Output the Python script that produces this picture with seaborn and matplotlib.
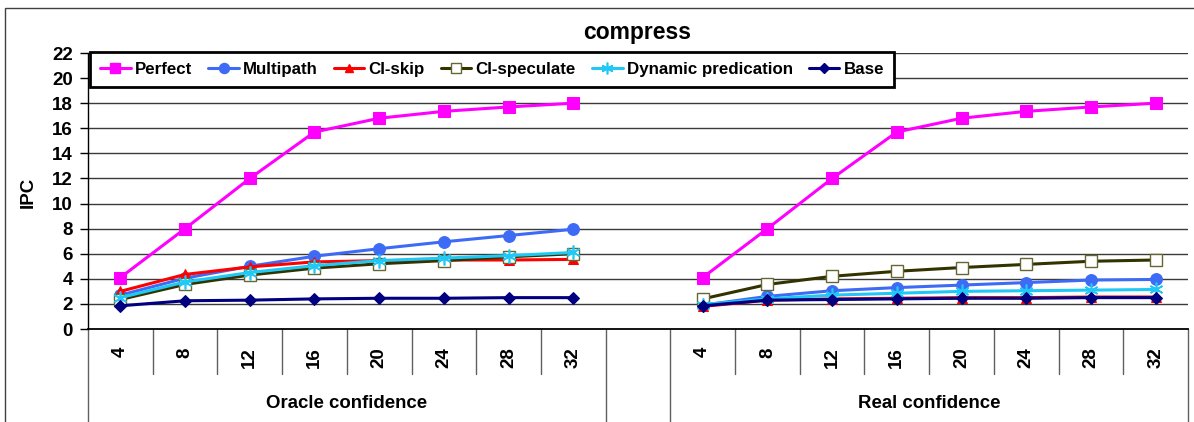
import matplotlib
matplotlib.use("Agg")
import matplotlib.pyplot as plt
import seaborn as sns
import pandas as pd
from matplotlib.lines import Line2D
from matplotlib.patches import Rectangle

sns.set_theme(style="white")
plt.rcParams['font.family'] = ['Liberation Sans', 'DejaVu Sans']
plt.rcParams['font.weight'] = 'bold'

# ---------------- data ----------------
window = [4, 8, 12, 16, 20, 24, 28, 32]
groups = ["Oracle confidence", "Real confidence"]
series = ["Perfect", "Multipath", "CI-skip", "CI-speculate", "Dynamic predication", "Base"]

oracle_perfect = [4.1, 8.0, 12.0, 15.7, 16.8, 17.35, 17.7, 18.0]
oracle_multipath = [2.7, 4.05, 5.0, 5.8, 6.4, 6.95, 7.45, 7.95]
oracle_ciskip = [3.0, 4.35, 4.95, 5.35, 5.45, 5.5, 5.5, 5.55]
oracle_cispec = [2.35, 3.55, 4.3, 4.85, 5.2, 5.45, 5.75, 6.0]
oracle_dynpred = [2.5, 3.75, 4.5, 5.05, 5.45, 5.65, 5.85, 6.1]
oracle_base = [1.85, 2.25, 2.3, 2.4, 2.45, 2.45, 2.5, 2.5]

real_perfect = [4.1, 8.0, 12.0, 15.7, 16.8, 17.35, 17.7, 18.0]
real_multipath = [1.9, 2.6, 3.05, 3.3, 3.5, 3.7, 3.9, 3.95]
real_ciskip = [1.8, 2.3, 2.4, 2.45, 2.5, 2.5, 2.55, 2.55]
real_cispec = [2.4, 3.55, 4.2, 4.6, 4.9, 5.15, 5.4, 5.5]
real_dynpred = [1.95, 2.4, 2.7, 2.85, 3.0, 3.05, 3.1, 3.15]
real_base = [1.85, 2.3, 2.35, 2.4, 2.45, 2.45, 2.5, 2.5]

values = {
    "Oracle confidence": [oracle_perfect, oracle_multipath, oracle_ciskip,
                          oracle_cispec, oracle_dynpred, oracle_base],
    "Real confidence": [real_perfect, real_multipath, real_ciskip,
                        real_cispec, real_dynpred, real_base],
}

# ---------------- styles ----------------
styles = {
    "Perfect": dict(color="#FF00FF", marker="s", markersize=8.5, markeredgecolor="#FF00FF", markerfacecolor="#FF00FF"),
    "Multipath": dict(color="#3D6BF5", marker="o", markersize=8.5, markeredgecolor="#3D6BF5", markerfacecolor="#3D6BF5"),
    "CI-skip": dict(color="#FF0000", marker="^", markersize=7.5, markeredgecolor="#FF0000", markerfacecolor="#FF0000"),
    "CI-speculate": dict(color="#333300", marker="s", markersize=8, markeredgecolor="#666633", markerfacecolor="white", markeredgewidth=1.0),
    "Dynamic predication": dict(color="#1FC8F5", marker=(6, 2, 0), markersize=10, markeredgecolor="#1FC8F5", markeredgewidth=1.2),
    "Base": dict(color="#000080", marker="D", markersize=6.5, markeredgecolor="#000080", markerfacecolor="#000080"),
}

# long table: slot index follows category order, with one empty slot between groups
rows = []
for gi, g in enumerate(groups):
    for si, s in enumerate(series):
        for wi, w in enumerate(window):
            rows.append(dict(group=g, series=s, window=w,
                             slot=gi * (len(window) + 1) + wi,
                             ipc=values[g][si][wi]))
df = pd.DataFrame(rows)

W, H = 1194, 422
fig = plt.figure(figsize=(W / 100, H / 100), dpi=100)
fig.patch.set_facecolor("white")
ax = fig.add_axes([88 / W, 93 / H, 1100 / W, 276 / H])
ax.set_facecolor("white")

for g in groups:
    for s in series:
        sub = df[(df.group == g) & (df.series == s)]
        sns.lineplot(data=sub, x="slot", y="ipc", ax=ax, legend=False,
                     estimator=None, sort=True, linewidth=2.2, zorder=3,
                     **styles[s])

nslots = 2 * len(window) + 1
ax.set_xlim(-0.5, nslots - 0.5)
ax.set_ylim(0, 22)
ax.set_yticks(range(0, 23, 2))
ax.tick_params(axis="y", direction="out", length=6, width=1, color="black",
               labelsize=13.5, pad=5, left=True, labelcolor="black")
for lab in ax.get_yticklabels():
    lab.set_fontweight("bold")

xt = sorted(df.slot.unique())
xl = [str(window[i % (len(window) + 1)]) for i in xt]
ax.set_xticks(xt)
ax.set_xticklabels(xl, rotation=90, fontsize=13.5, fontweight="bold", color="black")
ax.tick_params(axis="x", length=0, pad=13)
ax.set_xlabel("")
ax.set_ylabel("")

for y in range(2, 23, 2):
    ax.axhline(y, color="#3a3a3a", lw=1, zorder=1)

for sp in ["top", "right"]:
    ax.spines[sp].set_visible(False)
ax.spines["left"].set_color("black")
ax.spines["left"].set_linewidth(1)
ax.spines["bottom"].set_color("black")
ax.spines["bottom"].set_linewidth(1.3)

# category separators
xtr = ax.get_xaxis_transform()
short_bottom = -45 / 276
long_bottom = -93 / 276
for gi in range(len(groups)):
    start = gi * (len(window) + 1)
    for k in range(len(window) - 1):
        ax.plot([start + k + 0.5] * 2, [0, short_bottom], transform=xtr,
                color="#606060", lw=1, clip_on=False)
for b in [-0.5, len(window) - 0.5, len(window) + 0.5, nslots - 0.5]:
    ax.plot([b, b], [0, long_bottom], transform=xtr, color="#606060", lw=1, clip_on=False)

for gi, g in enumerate(groups):
    c = gi * (len(window) + 1) + (len(window) - 1) / 2
    ax.text(c, -74 / 276, g, transform=xtr, ha="center", va="center",
            fontsize=13.4, fontweight="bold", color="black")

# title and y label
fig.text(637.5 / W, 1 - 32 / H, "compress", ha="center", va="center",
         fontsize=16.5, fontweight="bold", color="black")
fig.text(28 / W, 1 - 192 / H, "IPC", ha="center", va="center", rotation=90,
         fontsize=13.5, fontweight="bold", color="black")

# legend
handles = [Line2D([], [], linewidth=2.2, **{k: v for k, v in styles[s].items() if k != "markersize"},
                  markersize=styles[s]["markersize"] * 0.85) for s in series]
leg = ax.legend(handles, series, ncol=6, loc="upper left",
                bbox_to_anchor=(90 / W, 1 - 52 / H), bbox_transform=fig.transFigure,
                frameon=True, fancybox=False, framealpha=1, edgecolor="black",
                fontsize=12.2, handlelength=1.8, handletextpad=0.25,
                columnspacing=0.95, borderpad=0.6, borderaxespad=0)
leg.get_frame().set_linewidth(2)
leg.set_zorder(5)
for t in leg.get_texts():
    t.set_fontweight("bold")
    t.set_color("black")

# outer chart border
fig.add_artist(Rectangle((5 / W, -0.1), 1.2, 1.1 - 8 / H, transform=fig.transFigure,
                         fill=False, edgecolor="#404040", lw=1))

fig.savefig("out.png", dpi=100)
